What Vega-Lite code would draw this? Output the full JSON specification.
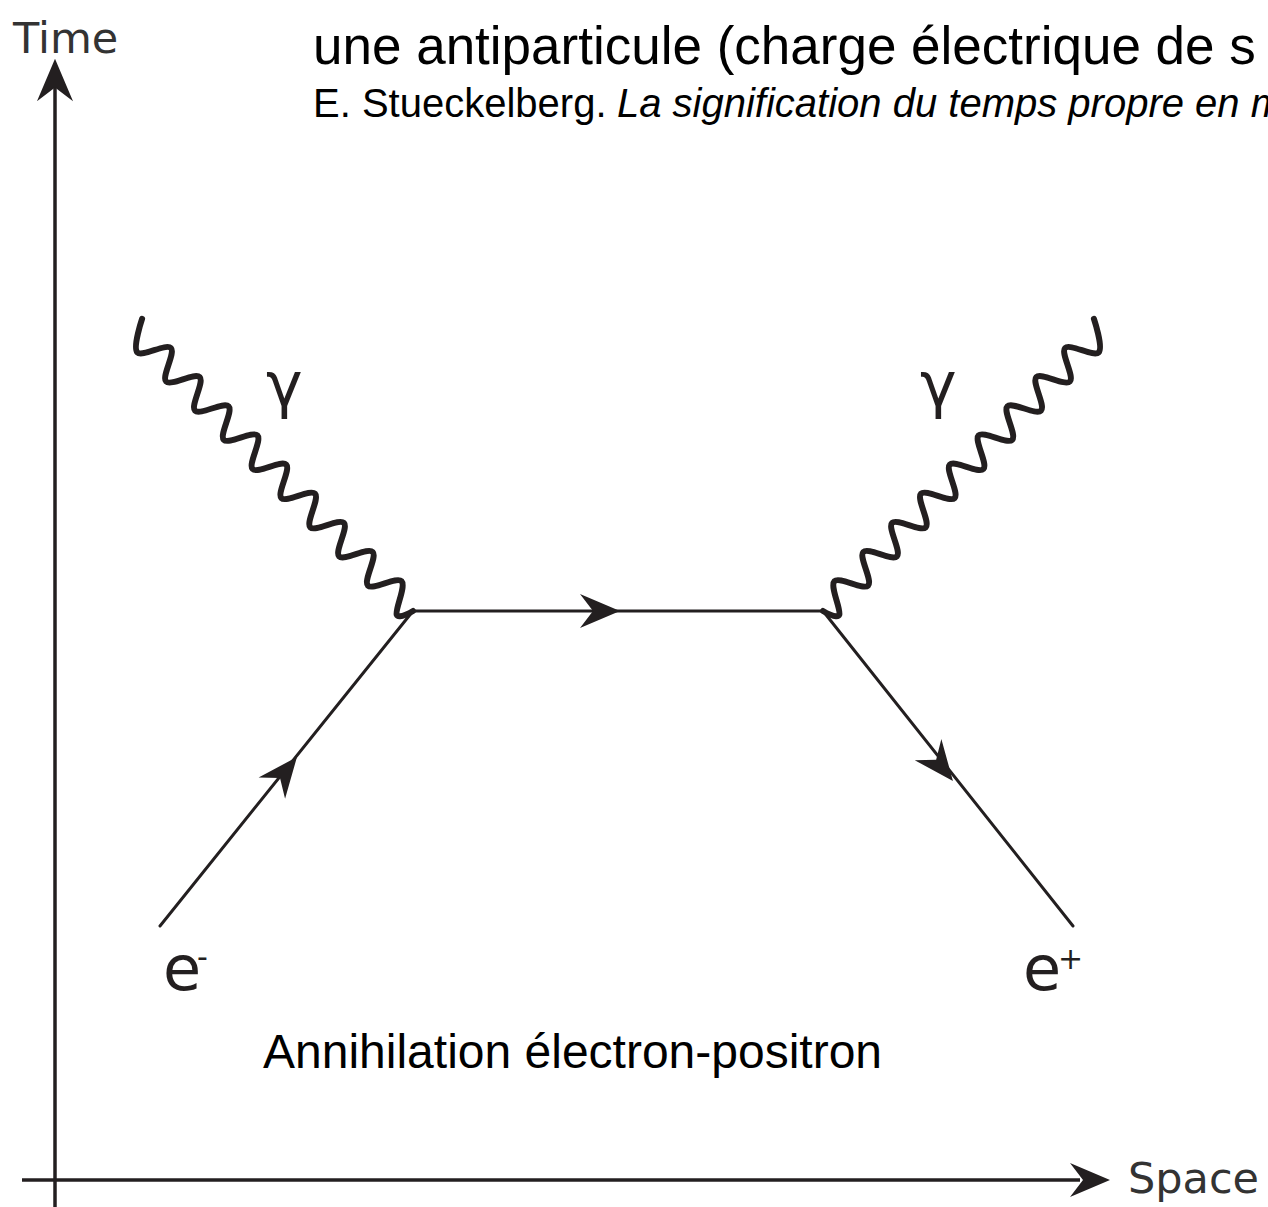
{
  "$schema": "https://vega.github.io/schema/vega-lite/v6.json",
  "width": 1268,
  "height": 1207,
  "padding": 0,
  "autosize": {"type": "none"},
  "background": "white",
  "config": {"view": {"stroke": null}},
  "datasets": {
    "rules": [
      {"id": "time-axis", "s1": 0, "t1": -27, "s2": 0, "t2": 1095},
      {"id": "space-axis", "s1": -33, "t1": 0, "s2": 1025, "t2": 0},
      {"id": "electron", "s1": 105, "t1": 254, "s2": 358, "t2": 569},
      {"id": "propagator", "s1": 358, "t1": 569, "s2": 768, "t2": 569},
      {"id": "positron", "s1": 768, "t1": 569, "s2": 1018, "t2": 254}
    ],
    "photons": [
      {"id": "left", "k": 0, "s": 87.1, "t": 861.2},
      {"id": "left", "k": 1, "s": 82.3, "t": 827.6},
      {"id": "left", "k": 2, "s": 115.9, "t": 832.0},
      {"id": "left", "k": 3, "s": 111.1, "t": 798.5},
      {"id": "left", "k": 4, "s": 144.7, "t": 802.9},
      {"id": "left", "k": 5, "s": 140.0, "t": 769.3},
      {"id": "left", "k": 6, "s": 173.6, "t": 773.7},
      {"id": "left", "k": 7, "s": 168.8, "t": 740.2},
      {"id": "left", "k": 8, "s": 202.4, "t": 744.6},
      {"id": "left", "k": 9, "s": 197.6, "t": 711.0},
      {"id": "left", "k": 10, "s": 231.2, "t": 715.4},
      {"id": "left", "k": 11, "s": 226.4, "t": 681.9},
      {"id": "left", "k": 12, "s": 260.0, "t": 686.3},
      {"id": "left", "k": 13, "s": 255.3, "t": 652.7},
      {"id": "left", "k": 14, "s": 288.9, "t": 657.1},
      {"id": "left", "k": 15, "s": 284.1, "t": 623.6},
      {"id": "left", "k": 16, "s": 317.7, "t": 628.0},
      {"id": "left", "k": 17, "s": 312.9, "t": 594.4},
      {"id": "left", "k": 18, "s": 346.5, "t": 598.8},
      {"id": "left", "k": 19, "s": 341.7, "t": 565.3},
      {"id": "left", "k": 20, "s": 358, "t": 569},
      {"id": "right", "k": 0, "s": 1038.9, "t": 861.2},
      {"id": "right", "k": 1, "s": 1043.7, "t": 827.6},
      {"id": "right", "k": 2, "s": 1010.1, "t": 832.0},
      {"id": "right", "k": 3, "s": 1014.9, "t": 798.5},
      {"id": "right", "k": 4, "s": 981.3, "t": 802.9},
      {"id": "right", "k": 5, "s": 986.0, "t": 769.3},
      {"id": "right", "k": 6, "s": 952.4, "t": 773.7},
      {"id": "right", "k": 7, "s": 957.2, "t": 740.2},
      {"id": "right", "k": 8, "s": 923.6, "t": 744.6},
      {"id": "right", "k": 9, "s": 928.4, "t": 711.0},
      {"id": "right", "k": 10, "s": 894.8, "t": 715.4},
      {"id": "right", "k": 11, "s": 899.6, "t": 681.9},
      {"id": "right", "k": 12, "s": 866.0, "t": 686.3},
      {"id": "right", "k": 13, "s": 870.7, "t": 652.7},
      {"id": "right", "k": 14, "s": 837.1, "t": 657.1},
      {"id": "right", "k": 15, "s": 841.9, "t": 623.6},
      {"id": "right", "k": 16, "s": 808.3, "t": 628.0},
      {"id": "right", "k": 17, "s": 813.1, "t": 594.4},
      {"id": "right", "k": 18, "s": 779.5, "t": 598.8},
      {"id": "right", "k": 19, "s": 784.3, "t": 565.3},
      {"id": "right", "k": 20, "s": 768, "t": 569}
    ],
    "arrows": [
      {"id": "time-axis", "s": 0, "t": 1100},
      {"id": "space-axis", "s": 1035, "t": 0},
      {"id": "propagator", "s": 545, "t": 569},
      {"id": "electron", "s": 229.4, "t": 407.4},
      {"id": "positron", "s": 885.5, "t": 414.7}
    ],
    "labels": [
      {"role": "axis", "text": "Time", "s": -42, "t": 1127},
      {"role": "axis", "text": "Space", "s": 1073, "t": -13},
      {"role": "particle", "text": "γ", "s": 211, "t": 774},
      {"role": "particle", "text": "γ", "s": 865, "t": 774},
      {"role": "particle", "text": "e", "s": 108, "t": 190},
      {"role": "particle", "text": "e", "s": 968, "t": 190},
      {"role": "charge", "text": "-", "s": 142, "t": 213},
      {"role": "charge", "text": "+", "s": 1003, "t": 211},
      {"role": "caption", "text": "Annihilation électron-positron", "s": 208, "t": 112},
      {"role": "quote", "text": "une antiparticule (charge électrique de s", "s": 258, "t": 1116},
      {"role": "author", "text": "E. Stueckelberg.", "s": 258, "t": 1063},
      {"role": "work", "text": "La signification du temps propre en m", "s": 562, "t": 1063}
    ]
  },
  "encoding": {
    "x": {"type": "quantitative", "scale": {"domain": [-55, 1213], "nice": false, "zero": false}, "axis": null},
    "y": {"type": "quantitative", "scale": {"domain": [-27, 1180], "nice": false, "zero": false}, "axis": null}
  },
  "layer": [
    {
      "data": {"name": "rules"},
      "transform": [{"filter": "indexof(['time-axis','space-axis'], datum.id) >= 0"}],
      "mark": {"type": "rule", "color": "#231f20", "strokeWidth": 3.5},
      "encoding": {
        "x": {"field": "s1", "type": "quantitative"},
        "y": {"field": "t1", "type": "quantitative"},
        "x2": {"field": "s2"},
        "y2": {"field": "t2"}
      }
    },
    {
      "data": {"name": "rules"},
      "transform": [{"filter": "indexof(['time-axis','space-axis'], datum.id) < 0"}],
      "mark": {"type": "rule", "color": "#231f20", "strokeWidth": 3, "strokeCap": "round"},
      "encoding": {
        "x": {"field": "s1", "type": "quantitative"},
        "y": {"field": "t1", "type": "quantitative"},
        "x2": {"field": "s2"},
        "y2": {"field": "t2"}
      }
    },
    {
      "data": {"name": "photons"},
      "mark": {"type": "line", "color": "#231f20", "strokeWidth": 6, "interpolate": "cardinal", "strokeCap": "round", "strokeJoin": "round"},
      "encoding": {
        "x": {"field": "s", "type": "quantitative"},
        "y": {"field": "t", "type": "quantitative"},
        "detail": {"field": "id"},
        "order": {"field": "k", "type": "quantitative"}
      }
    },
    {
      "data": {"name": "arrows"},
      "transform": [{"filter": "datum.id == 'time-axis'"}],
      "mark": {"type": "point", "shape": "M0,-1L0.85,1L0,0.35L-0.85,1Z", "filled": true, "color": "#231f20", "opacity": 1, "size": 1800, "angle": 0},
      "encoding": {"x": {"field": "s", "type": "quantitative"}, "y": {"field": "t", "type": "quantitative"}}
    },
    {
      "data": {"name": "arrows"},
      "transform": [{"filter": "datum.id == 'space-axis' || datum.id == 'propagator'"}],
      "mark": {"type": "point", "shape": "M0,-1L0.85,1L0,0.35L-0.85,1Z", "filled": true, "color": "#231f20", "opacity": 1, "size": 1600, "angle": 90},
      "encoding": {"x": {"field": "s", "type": "quantitative"}, "y": {"field": "t", "type": "quantitative"}}
    },
    {
      "data": {"name": "arrows"},
      "transform": [{"filter": "datum.id == 'electron'"}],
      "mark": {"type": "point", "shape": "M0,-1L0.85,1L0,0.35L-0.85,1Z", "filled": true, "color": "#231f20", "opacity": 1, "size": 1600, "angle": 38.9},
      "encoding": {"x": {"field": "s", "type": "quantitative"}, "y": {"field": "t", "type": "quantitative"}}
    },
    {
      "data": {"name": "arrows"},
      "transform": [{"filter": "datum.id == 'positron'"}],
      "mark": {"type": "point", "shape": "M0,-1L0.85,1L0,0.35L-0.85,1Z", "filled": true, "color": "#231f20", "opacity": 1, "size": 1600, "angle": 141.5},
      "encoding": {"x": {"field": "s", "type": "quantitative"}, "y": {"field": "t", "type": "quantitative"}}
    },
    {
      "data": {"name": "labels"},
      "transform": [{"filter": "datum.role == 'axis'"}],
      "mark": {"type": "text", "font": "DejaVu Sans", "fontSize": 43, "align": "left", "baseline": "alphabetic", "color": "#333333"},
      "encoding": {"x": {"field": "s", "type": "quantitative"}, "y": {"field": "t", "type": "quantitative"}, "text": {"field": "text"}}
    },
    {
      "data": {"name": "labels"},
      "transform": [{"filter": "datum.role == 'particle'"}],
      "mark": {"type": "text", "font": "DejaVu Sans", "fontSize": 62, "align": "left", "baseline": "alphabetic", "color": "#231f20"},
      "encoding": {"x": {"field": "s", "type": "quantitative"}, "y": {"field": "t", "type": "quantitative"}, "text": {"field": "text"}}
    },
    {
      "data": {"name": "labels"},
      "transform": [{"filter": "datum.role == 'charge'"}],
      "mark": {"type": "text", "font": "DejaVu Sans", "fontSize": 30, "align": "left", "baseline": "alphabetic", "color": "#231f20"},
      "encoding": {"x": {"field": "s", "type": "quantitative"}, "y": {"field": "t", "type": "quantitative"}, "text": {"field": "text"}}
    },
    {
      "data": {"name": "labels"},
      "transform": [{"filter": "datum.role == 'caption'"}],
      "mark": {"type": "text", "font": "Liberation Sans", "fontSize": 48, "align": "left", "baseline": "alphabetic", "color": "#000000"},
      "encoding": {"x": {"field": "s", "type": "quantitative"}, "y": {"field": "t", "type": "quantitative"}, "text": {"field": "text"}}
    },
    {
      "data": {"name": "labels"},
      "transform": [{"filter": "datum.role == 'quote'"}],
      "mark": {"type": "text", "font": "Liberation Sans", "fontSize": 53, "align": "left", "baseline": "alphabetic", "color": "#000000"},
      "encoding": {"x": {"field": "s", "type": "quantitative"}, "y": {"field": "t", "type": "quantitative"}, "text": {"field": "text"}}
    },
    {
      "data": {"name": "labels"},
      "transform": [{"filter": "datum.role == 'author'"}],
      "mark": {"type": "text", "font": "Liberation Sans", "fontSize": 40, "align": "left", "baseline": "alphabetic", "color": "#000000"},
      "encoding": {"x": {"field": "s", "type": "quantitative"}, "y": {"field": "t", "type": "quantitative"}, "text": {"field": "text"}}
    },
    {
      "data": {"name": "labels"},
      "transform": [{"filter": "datum.role == 'work'"}],
      "mark": {"type": "text", "font": "Liberation Sans", "fontSize": 40, "fontStyle": "italic", "align": "left", "baseline": "alphabetic", "color": "#000000"},
      "encoding": {"x": {"field": "s", "type": "quantitative"}, "y": {"field": "t", "type": "quantitative"}, "text": {"field": "text"}}
    }
  ]
}
